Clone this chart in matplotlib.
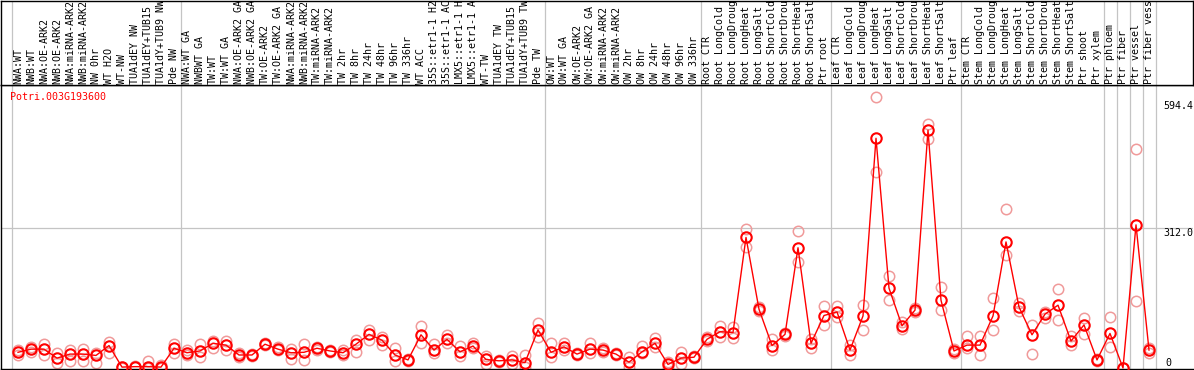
import matplotlib
matplotlib.use("Agg")
import matplotlib.pyplot as plt

gene = "Potri.003G193600"

labels = ["NWA:WT", "NWB:WT", "NWA:OE-ARK2", "NWB:OE-ARK2", "NWA:miRNA-ARK2", "NWB:miRNA-ARK2",
          "NW 0hr", "WT H2O", "WT-NW", "TUA1dEY NW", "TUA1dEY+TUB15 NW", "TUA1dY+TUB9 NW", "Pde NW",
          "NWA:WT GA", "NWBWT GA", "TW:WT", "TW:WT GA", "NWA:OE-ARK2 GA", "NWB:OE-ARK2 GA",
          "TW:OE-ARK2", "TW:OE-ARK2 GA", "NWA:miRNA-ARK2", "NWB:miRNA-ARK2", "TW:miRNA-ARK2",
          "TW:miRNA-ARK2", "TW 2hr", "TW 8hr", "TW 24hr", "TW 48hr", "TW 96hr", "TW 336hr", "WT ACC",
          "35S::etr1-1 H2O", "35S::etr1-1 ACC", "LMX5::etr1-1 H2O", "LMX5::etr1-1 ACC", "WT-TW",
          "TUA1dEY TW", "TUA1dEY+TUB15 TW", "TUA1dY+TUB9 TW", "Pde TW",
          "OW:WT", "OW:WT GA", "OW:OE-ARK2", "OW:OE-ARK2 GA", "OW:miRNA-ARK2", "OW:miRNA-ARK2",
          "OW 2hr", "OW 8hr", "OW 24hr", "OW 48hr", "OW 96hr", "OW 336hr",
          "Root CTR", "Root LongCold", "Root LongDrought", "Root LongHeat", "Root LongSalt",
          "Root ShortCold", "Root ShortDrought", "Root ShortHeat", "Root ShortSalt", "Ptr root",
          "Leaf CTR", "Leaf LongCold", "Leaf LongDrought", "Leaf LongHeat", "Leaf LongSalt",
          "Leaf ShortCold", "Leaf ShortDrought", "Leaf ShortHeat", "Leaf ShortSalt", "Ptr leaf",
          "Stem CTR", "Stem LongCold", "Stem LongDrought", "Stem LongHeat", "Stem LongSalt",
          "Stem ShortCold", "Stem ShortDrought", "Stem ShortHeat", "Stem ShortSalt", "Ptr shoot",
          "Ptr xylem", "Ptr phloem", "Ptr fiber", "Ptr vessel", "Ptr fiber vessel"]

mean = [35, 42, 42, 22, 31, 31, 28, 50, 2, 3, 3, 2, 44,
        34, 38, 55, 51, 29, 29, 53, 42, 34, 35, 44, 38, 34, 53, 75, 62, 29, 18, 74, 40, 64, 36, 49,
        19, 16, 18, 12, 85,
        35, 47, 31, 42, 40, 31, 13, 36, 55, 8, 22, 24,
        64, 81, 79, 291, 131, 50, 75, 268, 55, 117,
        125, 40, 116, 512, 178, 94, 129, 530, 151, 38,
        51, 51, 116, 281, 136, 74, 120, 140, 60, 96, 18,
        77, 0, 319, 40]

rep_hi = [40, 47, 53, 33, 39, 42, 34, 59, 3, 4, 15, 6, 53,
          40, 53, 60, 60, 33, 31, 55, 47, 42, 53, 47, 40, 40, 62, 85, 68, 44, 20, 94, 53, 74, 49, 55,
          27, 18, 27, 29, 101,
          55, 55, 33, 55, 44, 33, 24, 49, 66, 14, 36, 26,
          70, 94, 92, 309, 135, 64, 78, 306, 64, 139,
          138, 51, 140, 603, 205, 102, 133, 544, 180, 42,
          71, 71, 156, 354, 145, 96, 125, 176, 71, 111, 20,
          114, 0, 487, 44]

rep_lo = [29, 36, 29, 12, 16, 16, 12, 34, 1, 2, 1, 0, 34,
          29, 25, 45, 40, 25, 27, 51, 39, 19, 18, 40, 36, 29, 36, 62, 51, 16, 16, 55, 33, 55, 27, 45,
          10, 14, 10, 3, 68,
          24, 40, 29, 33, 36, 29, 3, 33, 47, 3, 10, 22,
          60, 68, 66, 270, 128, 40, 72, 237, 45, 96,
          113, 29, 85, 437, 151, 88, 125, 510, 129, 34,
          45, 29, 85, 252, 128, 31, 111, 107, 52, 76, 16,
          47, 0, 149, 33]

# group borders, in column units
borders = [-0.5, 12.5, 40.5, 52.5, 62.5, 72.5, 83.5, 84.5, 85.5, 86.5, 87.5]

mono = "DejaVu Sans Mono"
fs = 7.2
grey = "#c4c4c4"

fig = plt.figure(figsize=(11.94, 3.70), dpi=100)
W, H = 1194.0, 370.0
ax = fig.add_axes([1 / W, 1 / H, 1192 / W, 284 / H])
head = fig.add_axes([1 / W, 285 / H, 1192 / W, 84 / H])

x = list(range(len(labels)))
xlim = ((1 - 18) / 13.0, (1193 - 18) / 13.0)

ax.set_xlim(xlim)
ax.set_ylim(-2.23, 630.7)
head.set_xlim(xlim)
head.set_ylim(0, 1)

for b in borders:
    ax.axvline(b, color=grey, lw=0.9, zorder=1)
    head.axvline(b, color=grey, lw=0.9, zorder=1)
ax.axhline(312, color=grey, lw=0.9, zorder=1)

ax.plot(x, rep_hi, "o", ms=7.5, mfc="none", mec="#f09a9a", mew=1.1, zorder=2)
ax.plot(x, rep_lo, "o", ms=7.5, mfc="none", mec="#f09a9a", mew=1.1, zorder=2)
ax.plot(x, mean, "-", color="red", lw=1.0, marker="o", ms=7.5, mfc="none", mec="red", mew=1.5, zorder=3)

for i, lab in enumerate(labels):
    head.text(i, 0.01, lab, rotation=90, ha="center", va="bottom", fontsize=fs,
              family=mono, clip_on=True)

ax.text(-0.6, 604, gene, color="red", fontsize=fs, family=mono, va="center", ha="left")
ax.text(88.1, 594.4, "594.4", fontsize=fs, family=mono, va="top", ha="left")
ax.text(88.1, 312, "312.0", fontsize=fs, family=mono, va="top", ha="left")
ax.text(88.25, 0, "0", fontsize=fs, family=mono, va="bottom", ha="left")

for a in (ax, head):
    a.set_xticks([])
    a.set_yticks([])
for s in ax.spines.values():
    s.set_color("black")
    s.set_linewidth(1.0)
ax.spines["right"].set_visible(False)
for s in head.spines.values():
    s.set_color("black")
    s.set_linewidth(1.0)

fig.savefig("out.png", dpi=100)
